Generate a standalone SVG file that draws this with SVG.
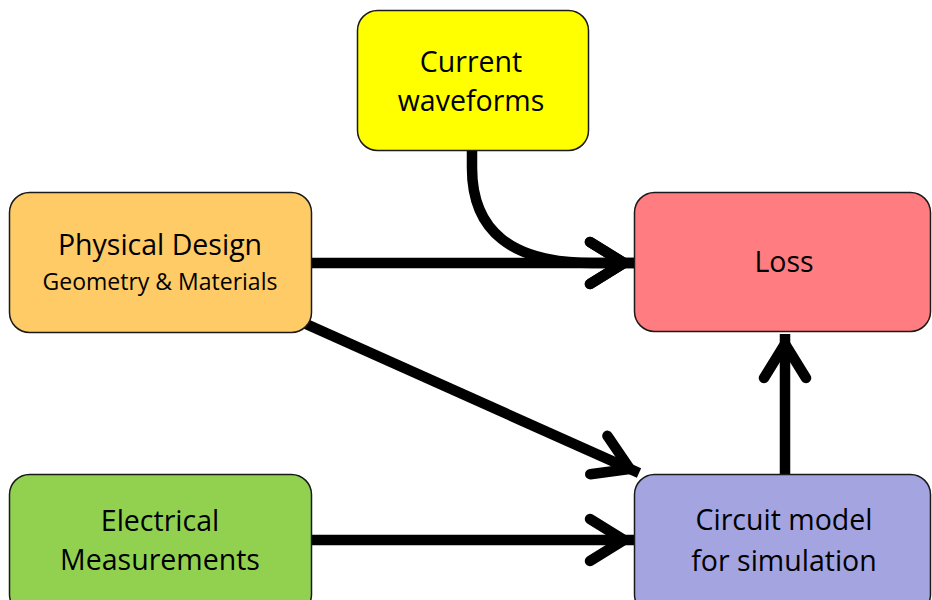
<svg xmlns="http://www.w3.org/2000/svg" width="932" height="600" viewBox="0 0 932 600">
<style>
.box{stroke:#1a1a1a;stroke-width:1.5}
.t{font-family:"Open Sans","Noto Sans",sans-serif;font-size:28.5px;fill:#000;text-anchor:middle}
.s{font-size:23px}
.c{fill:none;stroke:#000;stroke-width:10.5}
</style>
<defs>
<marker id="ah" markerUnits="userSpaceOnUse" markerWidth="60" markerHeight="60" viewBox="-50 -30 60 60" refX="0" refY="0" orient="auto" overflow="visible">
<path d="M-44,-21 L-10,0 L-44,21" fill="none" stroke="#000" stroke-width="10.5" stroke-linecap="round" stroke-linejoin="miter"/>
</marker>
</defs>
<rect width="932" height="600" fill="#fff"/>
<g id="connectors">
<path class="c" d="M472,148 L472,168 Q472,263 592,263 L634,263" marker-end="url(#ah)"/>
<path class="c" d="M312,263 L634,263" marker-end="url(#ah)"/>
<path class="c" d="M306,324 L639,473" marker-end="url(#ah)"/>
<path class="c" d="M312,540 L634,540" marker-end="url(#ah)"/>
<path class="c" d="M785,476 L785,334" marker-end="url(#ah)"/>
</g>
<g id="current-waveforms">
<rect class="box" x="357.5" y="10.5" width="231" height="140" rx="20" fill="#ffff00"/>
<text class="t" x="471" y="72">Current</text>
<text class="t" x="471" y="111">waveforms</text>
</g>
<g id="physical-design">
<rect class="box" x="9.5" y="192.5" width="302" height="140" rx="20" fill="#fecb66"/>
<text class="t" x="160" y="255">Physical Design</text>
<text class="t s" x="160" y="290">Geometry &amp; Materials</text>
</g>
<g id="loss">
<rect class="box" x="634.5" y="192.5" width="296" height="139" rx="20" fill="#ff7c80"/>
<text class="t" x="784" y="272">Loss</text>
</g>
<g id="electrical-measurements">
<rect class="box" x="9.5" y="474.5" width="302" height="140" rx="20" fill="#92d050"/>
<text class="t" x="160" y="531">Electrical</text>
<text class="t" x="160" y="570">Measurements</text>
</g>
<g id="circuit-model">
<rect class="box" x="634.5" y="474.5" width="296" height="140" rx="20" fill="#a4a4e0"/>
<text class="t" x="784" y="530">Circuit model</text>
<text class="t" x="784" y="571">for simulation</text>
</g>
</svg>
